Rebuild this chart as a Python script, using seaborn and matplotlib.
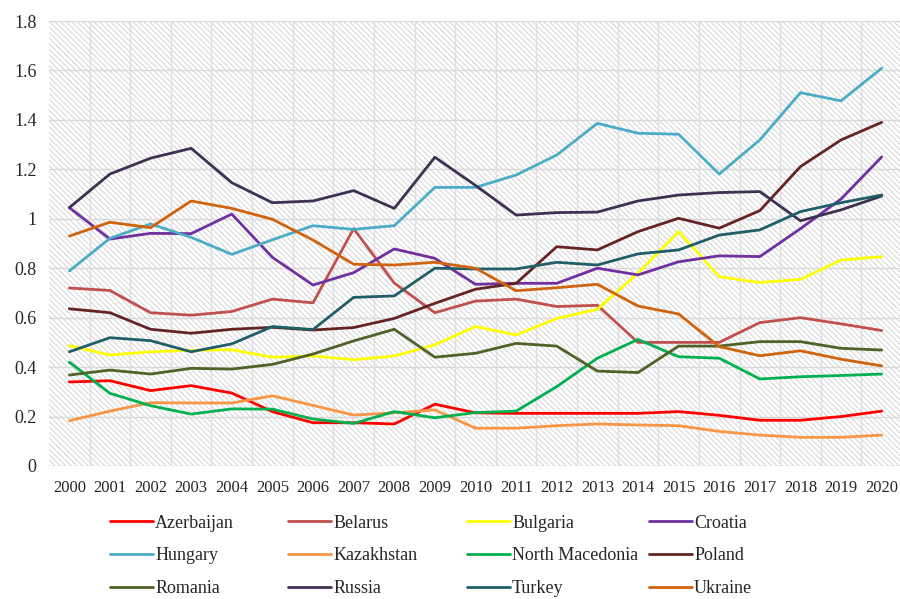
import matplotlib
matplotlib.use("Agg")
import matplotlib.pyplot as plt
import pandas as pd
import seaborn as sns
from matplotlib.patches import Rectangle

years = list(range(2000, 2021))

azerbaijan = [0.34, 0.345, 0.305, 0.325, 0.295, 0.22, 0.175, 0.175, 0.17, 0.25, 0.215,
              0.213, 0.213, 0.213, 0.213, 0.22, 0.205, 0.185, 0.185, 0.2, 0.222]
belarus = [0.72, 0.71, 0.62, 0.61, 0.625, 0.675, 0.66, 0.96, 0.74, 0.62, 0.667,
           0.675, 0.645, 0.65, 0.5, 0.5, 0.5, 0.58, 0.6, 0.575, 0.548]
bulgaria = [0.487, 0.449, 0.462, 0.468, 0.47, 0.44, 0.445, 0.43, 0.445, 0.49, 0.564,
            0.53, 0.597, 0.634, 0.78, 0.948, 0.766, 0.742, 0.755, 0.833, 0.847]
croatia = [1.045, 0.918, 0.941, 0.94, 1.019, 0.844, 0.732, 0.782, 0.878, 0.84, 0.735,
           0.739, 0.739, 0.8, 0.773, 0.826, 0.85, 0.847, 0.96, 1.08, 1.25]
hungary = [0.789, 0.921, 0.979, 0.925, 0.856, 0.915, 0.972, 0.957, 0.972, 1.127, 1.127,
           1.177, 1.258, 1.386, 1.346, 1.342, 1.181, 1.319, 1.51, 1.477, 1.609]
kazakhstan = [0.183, 0.222, 0.256, 0.255, 0.255, 0.284, 0.245, 0.206, 0.215, 0.227, 0.153,
              0.153, 0.163, 0.17, 0.166, 0.163, 0.14, 0.125, 0.116, 0.116, 0.125]
north_macedonia = [0.42, 0.294, 0.244, 0.21, 0.231, 0.23, 0.19, 0.172, 0.22, 0.195, 0.216,
                   0.222, 0.321, 0.436, 0.512, 0.442, 0.436, 0.352, 0.361, 0.366, 0.372]
poland = [0.636, 0.62, 0.553, 0.537, 0.553, 0.561, 0.55, 0.56, 0.597, 0.658, 0.715,
          0.739, 0.887, 0.874, 0.948, 1.002, 0.962, 1.033, 1.211, 1.319, 1.39]
romania = [0.368, 0.388, 0.372, 0.395, 0.392, 0.411, 0.453, 0.506, 0.553, 0.44, 0.456,
           0.496, 0.485, 0.384, 0.378, 0.485, 0.485, 0.503, 0.503, 0.476, 0.469]
russia = [1.045, 1.181, 1.245, 1.285, 1.146, 1.065, 1.072, 1.114, 1.042, 1.249, 1.135,
          1.015, 1.025, 1.027, 1.072, 1.096, 1.106, 1.11, 0.992, 1.036, 1.092]
turkey = [0.462, 0.519, 0.507, 0.462, 0.494, 0.564, 0.552, 0.682, 0.688, 0.8, 0.797,
          0.797, 0.824, 0.813, 0.858, 0.874, 0.934, 0.955, 1.029, 1.065, 1.096]
ukraine = [0.93, 0.986, 0.964, 1.072, 1.042, 0.998, 0.914, 0.816, 0.813, 0.824, 0.8,
           0.709, 0.721, 0.735, 0.647, 0.615, 0.483, 0.446, 0.466, 0.432, 0.405]

countries = ["Azerbaijan", "Belarus", "Bulgaria", "Croatia", "Hungary", "Kazakhstan",
             "North Macedonia", "Poland", "Romania", "Russia", "Turkey", "Ukraine"]
series = [azerbaijan, belarus, bulgaria, croatia, hungary, kazakhstan,
          north_macedonia, poland, romania, russia, turkey, ukraine]
colors = ["#FF0000", "#C0504D", "#FFFF00", "#7030A0", "#4BACC6", "#F79646",
          "#00B050", "#632523", "#4F6228", "#3F3151", "#215E68", "#D0640E"]

# long-form table for seaborn
df = pd.DataFrame({
    "year": years * len(countries),
    "value": [v for s in series for v in s],
    "country": [c for c in countries for _ in years],
})

sns.set_theme(style="white")
plt.rcParams["font.family"] = ["Liberation Serif", "DejaVu Serif"]
plt.rcParams["hatch.linewidth"] = 0.6

fig = plt.figure(figsize=(9, 5.99), dpi=100)
ax = fig.add_axes([49 / 900, 133 / 599, 853 / 900, 445 / 599])

# hatched plot-area background
ax.add_patch(Rectangle((0, 0), 1, 1, transform=ax.transAxes, facecolor="white",
                       edgecolor="#cdcdcd", hatch="\\" * 6, lw=0, zorder=0))

sns.lineplot(data=df, x="year", y="value", hue="country", hue_order=countries,
             palette=dict(zip(countries, colors)), linewidth=2.0, ax=ax, zorder=3)

ax.set_xlim(1999.5, 2020.5)
ax.set_ylim(0, 1.8)
ax.set_xticks(years)
ax.set_xticklabels([str(y) for y in years], fontsize=12)
ax.set_yticks([0, 0.2, 0.4, 0.6, 0.8, 1.0, 1.2, 1.4, 1.6, 1.8])
ax.set_yticklabels(["0", "0.2", "0.4", "0.6", "0.8", "1", "1.2", "1.4", "1.6", "1.8"],
                   fontsize=13)
ax.tick_params(axis="x", length=0, pad=10)
ax.tick_params(axis="y", length=0, pad=9)
ax.set_xlabel("")
ax.set_ylabel("")

# gridlines: horizontal at ticks, vertical between categories
for yv in [0.2, 0.4, 0.6, 0.8, 1.0, 1.2, 1.4, 1.6, 1.8]:
    ax.axhline(yv, color="#d9d9d9", lw=1.0, zorder=1)
for xv in years[:-1]:
    ax.axvline(xv + 0.5, color="#dedede", lw=1.0, zorder=1)
ax.axhline(0, color="#d0d0d0", lw=1.0, zorder=2)

for s in ax.spines.values():
    s.set_visible(False)

# legend: 4 equal-width columns, filled row by row
handles, labels = ax.get_legend_handles_labels()
ax.legend_.remove()
col_x = [110, 288, 467, 649]
for j, x in enumerate(col_x):
    idx = [j, j + 4, j + 8]
    fig.legend([handles[i] for i in idx], [labels[i] for i in idx],
               loc="upper left", bbox_to_anchor=(x / 900, 0.141),
               frameon=False, fontsize=13, handlelength=2.4, handletextpad=0.1,
               labelspacing=0.88, borderpad=0, borderaxespad=0)

fig.savefig("out.png", dpi=100, facecolor="white")
